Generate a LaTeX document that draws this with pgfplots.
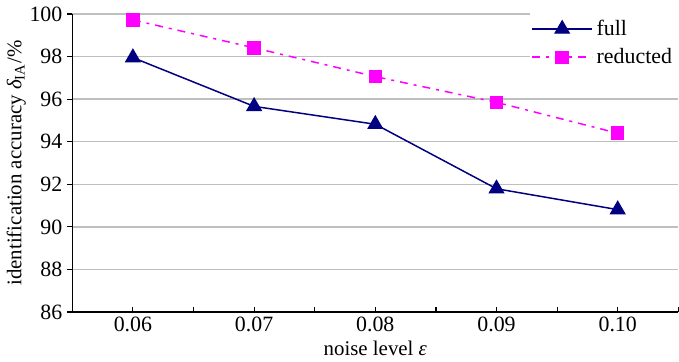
\documentclass[border=0pt]{standalone}
\usepackage{fontspec}
\setmainfont{Liberation Serif}
\usepackage{pgfplots}
\pgfplotsset{compat=1.18}
\definecolor{fullc}{RGB}{0,0,128}
\definecolor{redc}{RGB}{255,0,255}
\definecolor{gridc}{RGB}{191,191,191}
\begin{document}
\begin{tikzpicture}
\begin{axis}[
  scale only axis, width=305pt, height=150pt,
  xmin=-0.5, xmax=4.5, ymin=86, ymax=100,
  axis lines*=left,
  axis line style={line width=0.6pt},
  xtick={0,1,2,3,4},
  xticklabels={0.06,0.07,0.08,0.09,0.10},
  minor xtick={-0.5,0.5,1.5,2.5,3.5,4.5},
  ytick={86,88,...,100},
  ymajorgrids,
  major grid style={gridc, line width=0.7pt},
  xtick align=inside, ytick align=outside,
  major tick length=2.5pt, minor tick length=2.5pt,
  tick style={black, line width=0.6pt},
  /pgf/number format/assume math mode=true,
  tick label style={font=\fontsize{11}{13}\selectfont},
  xticklabel style={yshift=1pt},
  yticklabel style={xshift=1pt},
  label style={font=\fontsize{10.5}{12}\selectfont},
  xlabel={noise level {\itshape ε}},
  ylabel={identification accuracy {\itshape δ}\textsubscript{IA}/\%},
  xlabel style={yshift=2.5pt},
  ylabel style={yshift=-5pt},
  legend style={at={(1,1.015)}, anchor=north east, draw=none, fill=white,
    font=\fontsize{11}{13}\selectfont, row sep=1pt, inner xsep=1pt, inner ysep=3pt},
  legend cell align=left,
  legend image code/.code={\draw[mark repeat=2,mark phase=2,#1] plot coordinates {(0pt,0pt) (15pt,0pt) (30pt,0pt)};},
]
\addplot[fullc, line width=0.75pt, mark=triangle*, mark size=4pt, mark options={solid}]
  coordinates {(0,97.95) (1,95.66) (2,94.82) (3,91.79) (4,90.81)};
\addlegendentry{full}
\addplot[redc, line width=0.75pt, dash pattern=on 4pt off 3pt on 1.5pt off 3pt, mark=square*, mark size=3pt, mark options={solid}]
  coordinates {(0,99.72) (1,98.41) (2,97.06) (3,95.85) (4,94.40)};
\addlegendentry{reducted}
\end{axis}
\end{tikzpicture}
\end{document}
